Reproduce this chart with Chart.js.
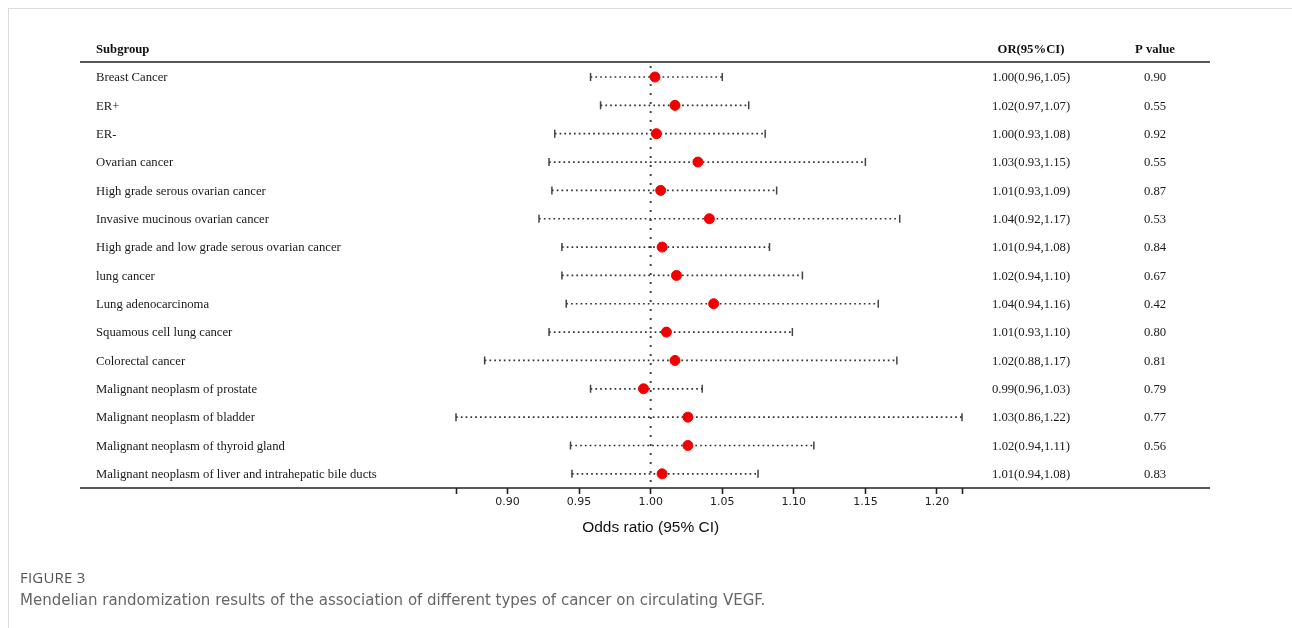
<!DOCTYPE html>
<html>
<head>
<meta charset="utf-8">
<script src="https://cdn.jsdelivr.net/npm/chart.js@4/dist/chart.umd.min.js"></script>
<style>
  html, body { margin: 0; padding: 0; background: #fff; }
  #wrap { position: relative; width: 1292px; height: 628px; overflow: hidden; }
  #frame { position: absolute; left: 8px; top: 8px; width: 1300px; height: 640px;
           border-top: 1px solid #dcdcdc; border-left: 1px solid #dcdcdc; }
  canvas { position: absolute; left: 0; top: 0; }
  .cap1 { position: absolute; left: 20px; top: 567px; font-family: "Open Sans", Lato, sans-serif;
          font-size: 15px; color: #555; letter-spacing: 0.2px; }
  .cap2 { position: absolute; left: 20px; top: 591px; font-family: "DejaVu Sans", sans-serif;
          font-size: 15px; color: #666; }
</style>
</head>
<body>
<div id="wrap">
  <div id="frame"></div>
  <canvas id="c" width="1292" height="628"></canvas>
  <div class="cap1">FIGURE 3</div>
  <div class="cap2">Mendelian randomization results of the association of different types of cancer on circulating VEGF.</div>
</div>
<script>
const categories = [
  "Breast Cancer", "ER+", "ER-", "Ovarian cancer", "High grade serous ovarian cancer",
  "Invasive mucinous ovarian cancer", "High grade and low grade serous ovarian cancer",
  "lung cancer", "Lung adenocarcinoma", "Squamous cell lung cancer", "Colorectal cancer",
  "Malignant neoplasm of prostate", "Malignant neoplasm of bladder",
  "Malignant neoplasm of thyroid gland", "Malignant neoplasm of liver and intrahepatic bile ducts"
];
const orValues = [1.003, 1.017, 1.004, 1.033, 1.007, 1.041, 1.008, 1.018, 1.044, 1.011, 1.017, 0.995, 1.026, 1.026, 1.008];
const lowerCI  = [0.958, 0.965, 0.933, 0.929, 0.931, 0.922, 0.938, 0.938, 0.941, 0.929, 0.884, 0.958, 0.864, 0.944, 0.945];
const upperCI  = [1.050, 1.0685, 1.080, 1.150, 1.088, 1.174, 1.083, 1.106, 1.159, 1.099, 1.172, 1.036, 1.2175, 1.114, 1.075];
const orLabels = [
  "1.00(0.96,1.05)", "1.02(0.97,1.07)", "1.00(0.93,1.08)", "1.03(0.93,1.15)", "1.01(0.93,1.09)",
  "1.04(0.92,1.17)", "1.01(0.94,1.08)", "1.02(0.94,1.10)", "1.04(0.94,1.16)", "1.01(0.93,1.10)",
  "1.02(0.88,1.17)", "0.99(0.96,1.03)", "1.03(0.86,1.22)", "1.02(0.94,1.11)", "1.01(0.94,1.08)"
];
const pValues = ["0.90", "0.55", "0.92", "0.55", "0.87", "0.53", "0.84", "0.67", "0.42", "0.80", "0.81", "0.79", "0.77", "0.56", "0.83"];
const tickValues = [0.90, 0.95, 1.00, 1.05, 1.10, 1.15, 1.20];
const headers = ["Subgroup", "OR(95%CI)", "P value"];
const axisTitle = "Odds ratio (95% CI)";

const xMin = Math.min(...lowerCI);
const xMax = Math.max(...upperCI);

const serif = '"Liberation Serif", "Times New Roman", serif';

const forestPlugin = {
  id: 'forest',
  beforeDatasetsDraw(chart) {
    const ctx = chart.ctx;
    const xs = chart.scales.x, ys = chart.scales.y;
    const area = chart.chartArea;
    ctx.save();
    const x1 = xs.getPixelForValue(1);
    ctx.strokeStyle = '#444';
    ctx.lineWidth = 2;
    ctx.setLineDash([2, 7]);
    ctx.beginPath();
    ctx.moveTo(x1, area.top + 4);
    ctx.lineTo(x1, area.bottom);
    ctx.stroke();
    for (let i = 0; i < categories.length; i++) {
      const y = ys.getPixelForValue(i);
      const a = xs.getPixelForValue(lowerCI[i]);
      const b = xs.getPixelForValue(upperCI[i]);
      ctx.strokeStyle = '#333';
      ctx.lineWidth = 1.7;
      ctx.setLineDash([1.7, 3.1]);
      ctx.beginPath();
      ctx.moveTo(a, y);
      ctx.lineTo(b, y);
      ctx.stroke();
      ctx.setLineDash([]);
      ctx.lineWidth = 1.5;
      ctx.strokeStyle = '#444';
      ctx.beginPath();
      ctx.moveTo(a, y - 4); ctx.lineTo(a, y + 4);
      ctx.moveTo(b, y - 4); ctx.lineTo(b, y + 4);
      ctx.stroke();
    }
    ctx.restore();
  },
  afterDraw(chart) {
    const ctx = chart.ctx;
    const xs = chart.scales.x, ys = chart.scales.y;
    const area = chart.chartArea;
    const left = 80, right = 1210, orX = 1031, pX = 1155;
    ctx.save();
    ctx.strokeStyle = '#222';
    ctx.lineWidth = 1.6;
    ctx.beginPath();
    ctx.moveTo(left, area.top); ctx.lineTo(right, area.top);
    ctx.moveTo(left, area.bottom); ctx.lineTo(right, area.bottom);
    ctx.stroke();
    ctx.fillStyle = '#111';
    ctx.textBaseline = 'middle';
    ctx.font = 'bold 12.7px ' + serif;
    ctx.textAlign = 'left';
    ctx.fillText(headers[0], 96, area.top - 12);
    ctx.textAlign = 'center';
    ctx.fillText(headers[1], orX, area.top - 12);
    ctx.fillText(headers[2], pX, area.top - 12);
    ctx.font = '12.7px ' + serif;
    ctx.fillStyle = '#1a1a1a';
    for (let i = 0; i < categories.length; i++) {
      const y = ys.getPixelForValue(i) + 1;
      ctx.textAlign = 'left';
      ctx.fillText(categories[i], 96, y);
      ctx.textAlign = 'center';
      ctx.fillText(orLabels[i], orX, y);
      ctx.fillText(pValues[i], pX, y);
    }
    ctx.font = '15.5px "Liberation Sans", Arial, sans-serif';
    ctx.fillStyle = '#111';
    ctx.textAlign = 'center';
    ctx.fillText(axisTitle, xs.getPixelForValue(1), area.bottom + 40);
    ctx.restore();
  }
};

new Chart(document.getElementById('c'), {
  type: 'scatter',
  data: {
    datasets: [{
      data: orValues.map((v, i) => ({ x: v, y: i })),
      backgroundColor: '#f20000',
      borderColor: '#f20000',
      pointRadius: 5,
      pointHoverRadius: 5
    }]
  },
  options: {
    responsive: false,
    animation: false,
    events: [],
    layout: { padding: { left: 456, right: 330, top: 62, bottom: 84 } },
    plugins: { legend: { display: false }, tooltip: { enabled: false } },
    scales: {
      x: {
        type: 'linear',
        min: xMin, max: xMax,
        afterBuildTicks(scale) {
          scale.ticks = [xMin, ...tickValues, xMax].map(v => ({ value: v }));
        },
        afterFit(scale) { scale.height = 56; },
        grid: { drawOnChartArea: false, drawTicks: true, tickLength: 6, color: '#222', tickWidth: 1.6 },
        border: { display: false },
        ticks: {
          padding: 2,
          color: '#222',
          font: { family: '"DejaVu Sans", sans-serif', size: 11 },
          callback(v) { return tickValues.some(t => Math.abs(t - v) < 1e-9) ? v.toFixed(2) : ''; }
        }
      },
      y: {
        type: 'linear', reverse: true, min: -0.53, max: 14.5, display: false
      }
    }
  },
  plugins: [forestPlugin]
});
</script>
</body>
</html>
